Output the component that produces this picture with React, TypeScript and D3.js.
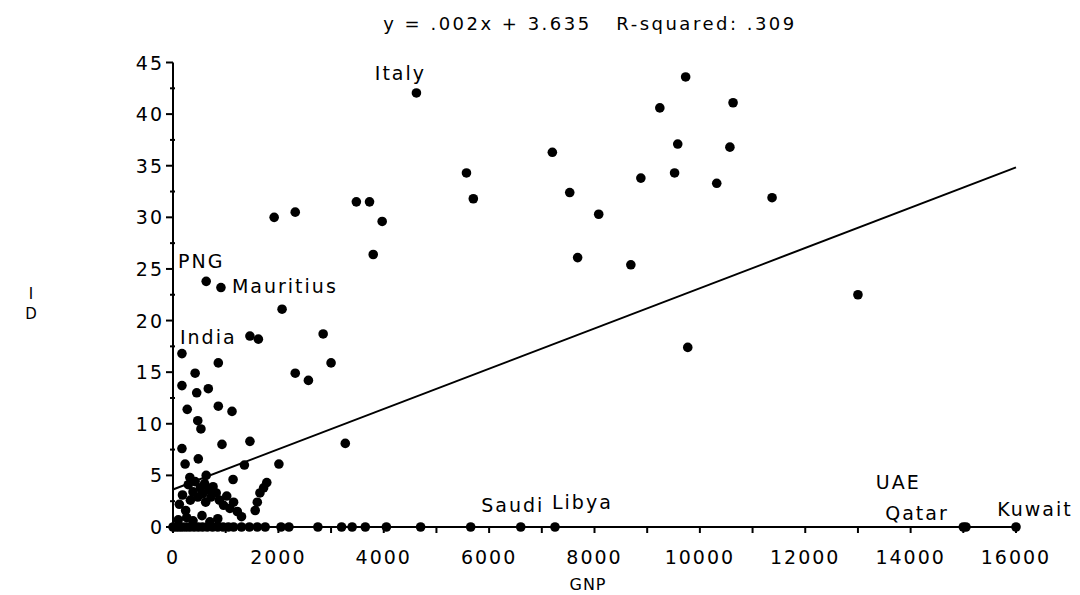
import React from "react";
import * as d3 from "d3";

// regression reported in the title; slope
const titleText = "y = .002x + 3.635   R-squared: .309";
const fitIntercept = 3.635;
const fitSlope = 0.00195;

const xTicks = [0, 2000, 4000, 6000, 8000, 10000, 12000, 14000, 16000];
const yTicks = [0, 5, 10, 15, 20, 25, 30, 35, 40, 45];

// [GNP, ID]
const upperPoints: [number, number][] = [
  [4620, 42.05], [1920, 30.0], [2320, 30.5], [3480, 31.5], [3730, 31.5],
  [3970, 29.6], [5570, 34.3], [5700, 31.8], [3800, 26.4],
  [9730, 43.6], [9240, 40.6], [10630, 41.1], [9580, 37.1], [10570, 36.8],
  [7200, 36.3], [7530, 32.4], [8080, 30.3], [8880, 33.8], [9520, 34.3],
  [10320, 33.3], [11370, 31.9], [7680, 26.1], [8690, 25.4], [13000, 22.5],
  [9770, 17.4],
];

const middlePoints: [number, number][] = [
  [630, 23.8], [910, 23.2], [2070, 21.1], [1460, 18.5], [1620, 18.2],
  [2850, 18.7], [170, 16.8], [3000, 15.9], [2320, 14.9], [2570, 14.2],
  [860, 15.9], [420, 14.9], [170, 13.7], [450, 13.0], [670, 13.4],
  [270, 11.4], [860, 11.7], [1120, 11.2], [470, 10.3], [530, 9.5],
  [170, 7.6], [930, 8.0], [1460, 8.3], [230, 6.1], [480, 6.6],
  [1355, 6.0], [2010, 6.1], [3270, 8.1], [320, 4.8], [630, 5.0], [1140, 4.6],
];

const lowPoints: [number, number][] = [
  [120, 2.2], [180, 3.1], [240, 1.6], [290, 4.1], [330, 2.6], [380, 3.4],
  [420, 4.4], [470, 2.9], [520, 3.8], [560, 3.2], [600, 4.2], [620, 2.4],
  [680, 3.6], [720, 2.9], [760, 3.9], [820, 3.3], [880, 2.6], [960, 2.1],
  [1020, 3.0], [1080, 1.8], [1150, 2.4], [1220, 1.5], [1300, 1.0],
  [1560, 1.6], [1600, 2.4], [1650, 3.3], [1720, 3.8], [1780, 4.3],
  [260, 0.9], [380, 0.6], [550, 1.1], [700, 0.5], [850, 0.8], [100, 0.7],
];

const zeroPoints: [number, number][] = [
  [0, 0], [60, 0], [120, 0], [180, 0], [250, 0], [320, 0], [400, 0],
  [480, 0], [560, 0], [650, 0], [750, 0], [850, 0], [950, 0], [1050, 0],
  [1150, 0], [1300, 0], [1450, 0], [1600, 0], [1750, 0], [2050, 0],
  [2200, 0], [2750, 0], [3200, 0], [3400, 0], [3650, 0], [4050, 0],
  [4700, 0], [5650, 0], [6600, 0], [7250, 0], [15000, 0], [15050, 0],
  [16000, 0],
];

const labelNames = ["Italy", "PNG", "Mauritius", "India", "Saudi", "Libya", "UAE", "Qatar", "Kuwait"];
const labelGnp = [4620, 630, 910, 170, 6600, 7250, 15000, 15050, 16000];
const labelId = [42.05, 23.8, 23.2, 16.8, 0, 0, 0, 0, 0];
// label placement relative to its point (px)
const labelOffsets: [number, number, string][] = [
  [-16, -20, "middle"], [-5, -20, "middle"], [11, -2, "start"],
  [-2, -17, "start"], [-8, -22, "middle"], [-3, -25, "start"],
  [-65, -45, "middle"], [-49, -14, "middle"], [19, -18, "middle"],
];

const font = "'DejaVu Sans', Verdana, sans-serif";

export default function App() {
  const width = 1080;
  const height = 595;
  const x = d3.scaleLinear().domain([0, 16000]).range([173, 1016]);
  const y = d3.scaleLinear().domain([0, 45]).range([527, 62.5]);

  const allPoints = [...upperPoints, ...middlePoints, ...lowPoints, ...zeroPoints];
  const minorX = d3.range(0, 16001, 1000);
  const minorY = d3.range(2.5, 45, 5);

  const fit = d3
    .line<number>()
    .x((d) => x(d))
    .y((d) => y(fitIntercept + fitSlope * d));

  return (
    <svg
      width={width}
      height={height}
      style={{ position: "absolute", left: 0, top: 0, background: "#fff" }}
      fontFamily={font}
    >
      <text x={590} y={30} textAnchor="middle" fontSize={18} letterSpacing={2.5} style={{ whiteSpace: "pre" }}>
        {titleText}
      </text>

      {/* axes */}
      <line x1={x(0)} x2={x(0)} y1={y(45)} y2={y(0)} stroke="#000" strokeWidth={2} />
      <line x1={x(0)} x2={x(16000)} y1={y(0)} y2={y(0)} stroke="#000" strokeWidth={2} />
      {yTicks.map((t) => (
        <g key={"y" + t}>
          <line x1={x(0) - 7} x2={x(0)} y1={y(t)} y2={y(t)} stroke="#000" strokeWidth={2} />
          <text x={x(0) - 9} y={y(t) + 7} textAnchor="end" fontSize={19} letterSpacing={2}>
            {t}
          </text>
        </g>
      ))}
      {minorY.map((t) => (
        <line key={"my" + t} x1={x(0) - 3} x2={x(0) + 2} y1={y(t)} y2={y(t)} stroke="#000" strokeWidth={2} />
      ))}
      {minorX.map((t) => (
        <line key={"mx" + t} x1={x(t)} x2={x(t)} y1={y(0)} y2={y(0) + 6} stroke="#000" strokeWidth={2} />
      ))}
      {xTicks.map((t) => (
        <text key={"x" + t} x={x(t)} y={564} textAnchor="middle" fontSize={19} letterSpacing={2}>
          {t}
        </text>
      ))}
      <text x={588} y={590} textAnchor="middle" fontSize={16} letterSpacing={1}>
        GNP
      </text>
      <text x={31} y={299} textAnchor="middle" fontSize={15}>
        I
      </text>
      <text x={31} y={319} textAnchor="middle" fontSize={15}>
        D
      </text>

      <path d={fit([0, 16000]) || ""} fill="none" stroke="#000" strokeWidth={2} />

      {allPoints.map((p, i) => (
        <circle key={i} cx={x(p[0])} cy={y(p[1])} r={4.8} fill="#000" />
      ))}

      {labelNames.map((name, i) => (
        <text
          key={name}
          x={x(labelGnp[i]) + labelOffsets[i][0]}
          y={y(labelId[i]) + labelOffsets[i][1] + 7}
          textAnchor={labelOffsets[i][2] as any}
          fontSize={19}
          letterSpacing={2}
        >
          {name}
        </text>
      ))}
    </svg>
  );
}
